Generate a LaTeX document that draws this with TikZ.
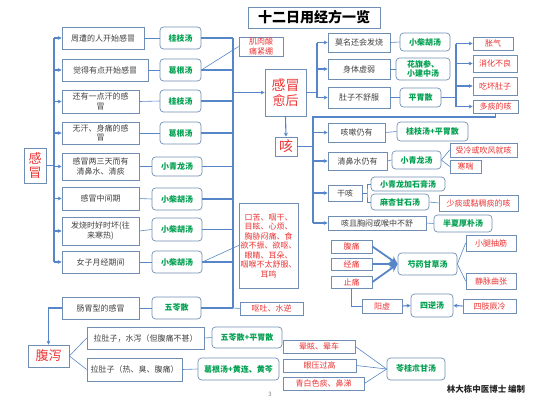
\documentclass[tikz,border=0pt]{standalone}
\usepackage{fontspec}
\setmainfont{Noto Sans CJK SC}
\usetikzlibrary{arrows.meta,calc}
\definecolor{bordc}{RGB}{112,142,180}
\definecolor{lnc}{RGB}{86,134,199}
\definecolor{grn}{RGB}{0,160,80}
\definecolor{rd}{RGB}{236,52,52}
\definecolor{txtg}{RGB}{64,64,64}
\newcommand{\bx}[7]{\node[#1,minimum width={#4-#2},minimum height={#5-#3}] (#7) at ({(#2+#4)/2},{(#3+#5)/2}) {#6};}
\tikzset{
 base/.style={draw=bordc, line width=0.7pt, fill=white, inner sep=0pt, align=center, font=\fontsize{8}{9.5}\selectfont},
 gbox/.style={base, text=txtg},
 fbox/.style={base, rounded corners=3.5pt, text=grn, font=\fontsize{8}{9.5}\selectfont\bfseries},
 rtbox/.style={base, text=rd},
 rbig/.style={base, text=rd, font=\fontsize{13}{14.5}\selectfont},
 titlebox/.style={base, text=black, font=\fontsize{14}{16}\selectfont\bfseries},
 conn/.style={draw=lnc, line width=1.1pt},
 thinc/.style={draw=lnc, line width=0.6pt},
 thickc/.style={draw=lnc, line width=1.8pt, -{Stealth[length=8pt,width=8pt]}},
 arr/.style={-{Stealth[length=4pt,width=4pt]}},
}
\begin{document}
\begin{tikzpicture}[x=1pt,y=-1pt]
\useasboundingbox (0,0) rectangle (540,405);
% title
\bx{titlebox}{248}{7}{380}{28}{十二日用经方一览}{title}
% left column
\bx{rbig}{24}{148}{46}{183}{感\\冒}{gm}
\bx{gbox}{62}{27}{144}{49}{周遭的人开始感冒}{l1}
\bx{gbox}{62}{59}{148}{81}{觉得有点开始感冒}{l2}
\bx{gbox}{62}{90}{139}{113}{还有一点汗的感\\冒}{l3}
\bx{gbox}{62}{122}{139}{144}{无汗、身痛的感\\冒}{l4}
\bx{gbox}{62}{153}{139}{180}{感冒两三天而有\\清鼻水、清痰}{l5}
\bx{gbox}{62}{187}{139}{210}{感冒中间期}{l6}
\bx{gbox}{62}{217}{139}{245}{发烧时好时坏(往\\来寒热)}{l7}
\bx{gbox}{62}{251}{139}{273}{女子月经期间}{l8}
\bx{gbox}{62}{297}{139}{319}{肠胃型的感冒}{l9}
% formulas
\bx{fbox}{160}{27}{201}{49}{桂枝汤}{f1}
\bx{fbox}{160}{59}{201}{81}{葛根汤}{f2}
\bx{fbox}{160}{90}{201}{112}{桂枝汤}{f3}
\bx{fbox}{160}{122}{201}{144}{葛根汤}{f4}
\bx{fbox}{152}{157}{202}{176}{小青龙汤}{f5}
\bx{fbox}{152}{188}{202}{210}{小柴胡汤}{f6}
\bx{fbox}{152}{218}{202}{241}{小柴胡汤}{f7}
\bx{fbox}{152}{251}{202}{273}{小柴胡汤}{f8}
\bx{fbox}{152}{297}{201}{319}{五苓散}{f9}
\coordinate (busL) at (54,0);
\coordinate (busR) at (233,0);
\draw[conn] (gm.east) -- (gm.east -| busL);
\draw[conn] (l1.west -| busL) -- (l8.west -| busL);
\foreach \i in {1,...,8}{\draw[conn,arr] (l\i.west -| busL) -- (l\i.west);}
\foreach \i in {1,...,9}{\draw[thinc] (l\i.east) -- (f\i.west); \draw[conn] (f\i.east) -- (f\i.east -| busR);}
\draw[conn] (f1.east -| busR) -- (f9.east -| busR);
% side notes
\bx{rtbox}{239}{37}{283}{56}{肌肉酸\\痛紧绷}{jr}
\draw[thinc] (f2.east) -- (jr.west);
\bx{rtbox}{239}{203}{298}{288}{\fontsize{8}{10.5}\selectfont 口苦、咽干、\\目眩、心烦、\\胸胁闷痛、食\\欲不振、欲呕、\\眼睛、耳朵、\\咽喉不太舒服、\\耳鸣}{kk}
\draw[thinc] (f8.east) -- (kk.west);
\bx{rtbox}{240}{302}{303}{315}{呕吐、水逆}{ot}
\draw[thinc] (f9.east -| busR) -- (ot.west);
% after cold
\bx{rbig}{265}{69}{306}{116}{\fontsize{14}{17}\selectfont 感冒\\愈后}{ghh}
\draw[conn,arr] (ghh.west -| busR) -- (ghh.west);
\coordinate (busA) at (317,0);
\coordinate (busB) at (456,0);
\bx{gbox}{328}{33}{390}{52}{莫名还会发烧}{a1}
\bx{gbox}{328}{59}{390}{79}{身体虚弱}{a2}
\bx{gbox}{328}{87}{390}{108}{肚子不舒服}{a3}
\bx{fbox}{400}{33}{450}{51}{小柴胡汤}{b1}
\bx{fbox}{396}{58}{450}{80}{花旗参、\\小建中汤}{b2}
\bx{fbox}{400}{88}{441}{107}{平胃散}{b3}
\draw[conn] (ghh.east) -- (ghh.east -| busA);
\draw[conn] (a1.west -| busA) -- (a3.west -| busA);
\foreach \i in {1,2,3}{\draw[conn,arr] (a\i.west -| busA) -- (a\i.west); \draw[thinc] (a\i.east) -- (b\i.west);}
\bx{rtbox}{473}{37}{513}{50}{胀气}{c1}
\bx{rtbox}{473}{55}{517}{72}{消化不良}{c2}
\bx{rtbox}{473}{77}{517}{95}{吃坏肚子}{c3}
\bx{rtbox}{473}{100}{518}{113}{多痰的咳}{c4}
\draw[conn] (b3.east) -- (b3.east -| busB);
\draw[conn] (c1.west -| busB) -- (c4.west -| busB);
\foreach \i in {1,...,4}{\draw[conn,arr] (c\i.west -| busB) -- (c\i.west);}
% cough
\bx{rbig}{275}{137}{297}{156}{\fontsize{14}{16}\selectfont 咳}{ke}
\draw[conn,arr] (ghh.south) -- (ke.north);
\coordinate (kTop) at (313,117);
\bx{gbox}{328}{123}{385}{142}{咳嗽仍有}{k1}
\bx{gbox}{328}{152}{387}{170}{清鼻水仍有}{k2}
\bx{gbox}{328}{185}{362}{201}{干咳}{k3}
\bx{gbox}{328}{216}{426}{230}{咳且胸闷或喉中不舒}{k4}
\draw[conn] (c4.south) |- (kTop) -- (kTop |- k4.west);
\draw[conn] (ke.east) -- (ke.east -| kTop);
\foreach \i in {1,...,4}{\draw[conn,arr] (k\i.west -| kTop) -- (k\i.west);}
\bx{fbox}{397}{122}{468}{141}{桂枝汤+平胃散}{kf1}
\bx{fbox}{392}{151}{441}{169}{小青龙汤}{kf2}
\bx{rtbox}{450}{143}{517}{157}{受冷或吹风就咳}{kr1}
\bx{rtbox}{450}{160}{481}{173}{寒喘}{kr2}
\draw[thinc] (k1.east) -- (kf1.west);
\draw[thinc] (k2.east) -- (kf2.west);
\draw[thinc] (kf2.east) -- (kr1.west);
\draw[thinc] (kf2.east) -- (kr2.west);
\bx{fbox}{371}{177}{445}{191}{小青龙加石膏汤}{kf3}
\bx{fbox}{371}{194}{429}{210}{麻杏甘石汤}{kf4}
\bx{rtbox}{439}{195}{518}{211}{少痰或黏稠痰的咳}{kr3}
\coordinate (brk) at (367,0);
\draw[thinc] (k3.east) -- (k3.east -| brk);
\draw[thinc] (kf3.west) -| (k3.east -| brk) |- (kf4.west);
\draw[thinc] (kf4.east) -- (kr3.west);
\bx{fbox}{434}{215}{492}{232}{半夏厚朴汤}{kf5}
\draw[thinc] (k4.east) -- (kf5.west);
% pain
\bx{rtbox}{331}{240}{372}{253}{腹痛}{p1}
\bx{rtbox}{331}{258}{372}{270}{经痛}{p2}
\bx{rtbox}{331}{276}{372}{288}{止痛}{p3}
\bx{fbox}{398}{253}{457}{275}{芍药甘草汤}{sy}
\foreach \i in {1,2,3}{\draw[thickc] (p\i.east) -- (sy.west);}
\bx{rtbox}{466}{235}{516}{251}{小腿抽筋}{ps1}
\bx{rtbox}{466}{273}{516}{289}{静脉曲张}{ps2}
\draw[thinc] (sy.east) -- (ps1.west);
\draw[thinc] (sy.east) -- (ps2.west);
\bx{rtbox}{362}{299}{402}{313}{阳虚}{yx}
\bx{fbox}{411}{294}{453}{317}{四逆汤}{sn}
\bx{rtbox}{463}{299}{516}{313}{四肢厥冷}{sz}
\draw[thinc] (p3.south) |- (yx.west);
\draw[conn,arr] (yx.east) -- (sn.west);
\draw[conn,arr] (sz.west) -- (sn.east);
% diarrhea
\bx{rbig}{28}{345}{69}{367}{腹泻}{fx}
\draw[conn,arr] (l9.west) -| (fx.north);
\bx{gbox}{87}{327}{204}{349}{拉肚子，水泻（但腹痛不甚）}{d1}
\bx{gbox}{87}{358}{182}{381}{拉肚子（热、臭、腹痛）}{d2}
\bx{fbox}{212}{327}{282}{348}{五苓散+平胃散}{df1}
\bx{fbox}{198}{358}{279}{380}{葛根汤+黄连、黄芩}{df2}
\draw[thinc] (fx.east) -- (d1.west);
\draw[thinc] (fx.east) -- (d2.west);
\draw[thinc] (d1.east) -- (df1.west);
\draw[thinc] (d2.east) -- (df2.west);
% dizziness
\bx{rtbox}{283}{340}{355}{353}{晕眩、晕车}{z1}
\bx{rtbox}{283}{359}{356}{372}{眼压过高}{z2}
\bx{rtbox}{283}{377}{364}{390}{青白色痰、鼻涕}{z3}
\bx{fbox}{387}{358}{445}{380}{苓桂朮甘汤}{lg}
\foreach \i in {1,2,3}{\draw[thinc] (z\i.east) -- (lg.west);}
% footer
\node[font=\fontsize{8.5}{10}\selectfont\bfseries, text=black!85] (sig) at (486,389) {林大栋中医博士 编制};
\node[font=\fontsize{6}{7}\selectfont, text=black!50] (pg) at (270,394) {3};
\end{tikzpicture}
\end{document}
